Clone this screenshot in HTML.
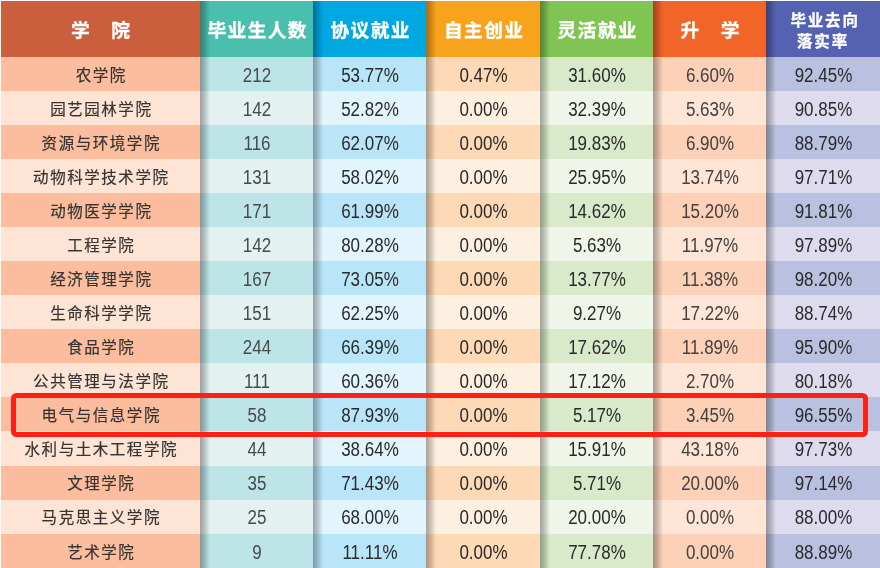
<!DOCTYPE html>
<html lang="zh-CN"><head><meta charset="utf-8"><title>table</title>
<style>
html,body{margin:0;padding:0;}
body{width:880px;height:568px;overflow:hidden;position:relative;background:#fff;font-family:"Liberation Sans","Noto Sans CJK SC",sans-serif;}
.c{position:absolute;top:0;height:568px;overflow:hidden;}
.h{position:absolute;left:0;right:0;top:0;height:57px;color:#fff;font-weight:bold;font-size:18.7px;letter-spacing:1.4px;text-indent:2.4px;text-align:center;line-height:62.6px;-webkit-text-stroke:0.3px #fff;white-space:nowrap;}
.h.two{font-size:15.5px;line-height:21px;letter-spacing:1.8px;text-indent:4.2px;}
.h.two span{display:block;padding-top:9.8px;}
.c{color:#2a2a2a}
.r{position:absolute;left:0;right:0;text-align:center;font-size:17px;white-space:nowrap;}
.r b{font-weight:normal;display:inline-block;transform:translateY(-0.25px) scaleY(1.14);padding-left:1px;}
.r i{font-style:normal;font-size:15.5px;letter-spacing:1.55px;color:#363433;position:relative;top:-0.1px;left:1.3px;-webkit-text-stroke:0.2px #363433;}
.sh{position:absolute;left:0;top:0;width:9.5px;height:568px;background:linear-gradient(to right,rgba(0,0,0,0.33),rgba(0,0,0,0.2) 45%,rgba(0,0,0,0));}
.box{position:absolute;box-sizing:border-box;left:11px;top:393.3px;width:857.4px;height:44px;border:5px solid #FC2015;border-left-width:5.6px;border-radius:5.5px;}
.wt{position:absolute;left:0;top:0;width:880px;height:1px;background:#fff;}
.wl{position:absolute;left:0;top:0;width:1px;height:568px;background:#fff;}
</style></head><body>

<div class="c" style="left:0px;width:200px">
<div class="r" style="top:57.00px;height:34px;line-height:37.00px;background:#FBBD9E"><i>农学院</i></div>
<div class="r" style="top:91.00px;height:34px;line-height:37.00px;background:#FEE4D5"><i>园艺园林学院</i></div>
<div class="r" style="top:125.00px;height:34px;line-height:37.00px;background:#FBBD9E"><i>资源与环境学院</i></div>
<div class="r" style="top:159.00px;height:34px;line-height:37.00px;background:#FEE4D5"><i>动物科学技术学院</i></div>
<div class="r" style="top:193.00px;height:34px;line-height:37.00px;background:#FBBD9E"><i>动物医学学院</i></div>
<div class="r" style="top:227.00px;height:34px;line-height:37.00px;background:#FEE4D5"><i>工程学院</i></div>
<div class="r" style="top:261.00px;height:34px;line-height:37.00px;background:#FBBD9E"><i>经济管理学院</i></div>
<div class="r" style="top:295.00px;height:34px;line-height:37.00px;background:#FEE4D5"><i>生命科学学院</i></div>
<div class="r" style="top:329.00px;height:34px;line-height:37.00px;background:#FBBD9E"><i>食品学院</i></div>
<div class="r" style="top:363.00px;height:34px;line-height:37.00px;background:#FEE4D5"><i>公共管理与法学院</i></div>
<div class="r" style="top:397.00px;height:34px;line-height:37.00px;background:#FBBD9E"><i>电气与信息学院</i></div>
<div class="r" style="top:431.00px;height:35px;line-height:37.00px;background:#FEE4D5"><i>水利与土木工程学院</i></div>
<div class="r" style="top:466.00px;height:34px;line-height:35.00px;background:#FBBD9E"><i>文理学院</i></div>
<div class="r" style="top:500.00px;height:34px;line-height:35.00px;background:#FEE4D5"><i>马克思主义学院</i></div>
<div class="r" style="top:534.00px;height:34px;line-height:37.00px;background:#FBBD9E"><i>艺术学院</i></div>
<div class="h" style="background:#CB5F3D">学　院</div>
</div>
<div class="c" style="left:200px;width:113px;color:#474a4a">
<div class="r" style="top:57.00px;height:34px;line-height:37.00px;background:#BDE4E6"><b>212</b></div>
<div class="r" style="top:91.00px;height:34px;line-height:37.00px;background:#E3F1F1"><b>142</b></div>
<div class="r" style="top:125.00px;height:34px;line-height:37.00px;background:#BDE4E6"><b>116</b></div>
<div class="r" style="top:159.00px;height:34px;line-height:37.00px;background:#E3F1F1"><b>131</b></div>
<div class="r" style="top:193.00px;height:34px;line-height:37.00px;background:#BDE4E6"><b>171</b></div>
<div class="r" style="top:227.00px;height:34px;line-height:37.00px;background:#E3F1F1"><b>142</b></div>
<div class="r" style="top:261.00px;height:34px;line-height:37.00px;background:#BDE4E6"><b>167</b></div>
<div class="r" style="top:295.00px;height:34px;line-height:37.00px;background:#E3F1F1"><b>151</b></div>
<div class="r" style="top:329.00px;height:34px;line-height:37.00px;background:#BDE4E6"><b>244</b></div>
<div class="r" style="top:363.00px;height:34px;line-height:37.00px;background:#E3F1F1"><b>111</b></div>
<div class="r" style="top:397.00px;height:34px;line-height:37.00px;background:#BDE4E6"><b>58</b></div>
<div class="r" style="top:431.00px;height:35px;line-height:37.00px;background:#E3F1F1"><b>44</b></div>
<div class="r" style="top:466.00px;height:34px;line-height:35.00px;background:#BDE4E6"><b>35</b></div>
<div class="r" style="top:500.00px;height:34px;line-height:35.00px;background:#E3F1F1"><b>25</b></div>
<div class="r" style="top:534.00px;height:34px;line-height:37.00px;background:#BDE4E6"><b>9</b></div>
<div class="h" style="background:#4BBFAD">毕业生人数</div>
<div class="sh"></div>
</div>
<div class="c" style="left:313px;width:113px">
<div class="r" style="top:57.00px;height:34px;line-height:37.00px;background:#B9E5F8"><b>53.77%</b></div>
<div class="r" style="top:91.00px;height:34px;line-height:37.00px;background:#E2F4FC"><b>52.82%</b></div>
<div class="r" style="top:125.00px;height:34px;line-height:37.00px;background:#B9E5F8"><b>62.07%</b></div>
<div class="r" style="top:159.00px;height:34px;line-height:37.00px;background:#E2F4FC"><b>58.02%</b></div>
<div class="r" style="top:193.00px;height:34px;line-height:37.00px;background:#B9E5F8"><b>61.99%</b></div>
<div class="r" style="top:227.00px;height:34px;line-height:37.00px;background:#E2F4FC"><b>80.28%</b></div>
<div class="r" style="top:261.00px;height:34px;line-height:37.00px;background:#B9E5F8"><b>73.05%</b></div>
<div class="r" style="top:295.00px;height:34px;line-height:37.00px;background:#E2F4FC"><b>62.25%</b></div>
<div class="r" style="top:329.00px;height:34px;line-height:37.00px;background:#B9E5F8"><b>66.39%</b></div>
<div class="r" style="top:363.00px;height:34px;line-height:37.00px;background:#E2F4FC"><b>60.36%</b></div>
<div class="r" style="top:397.00px;height:34px;line-height:37.00px;background:#B9E5F8"><b>87.93%</b></div>
<div class="r" style="top:431.00px;height:35px;line-height:37.00px;background:#E2F4FC"><b>38.64%</b></div>
<div class="r" style="top:466.00px;height:34px;line-height:35.00px;background:#B9E5F8"><b>71.43%</b></div>
<div class="r" style="top:500.00px;height:34px;line-height:35.00px;background:#E2F4FC"><b>68.00%</b></div>
<div class="r" style="top:534.00px;height:34px;line-height:37.00px;background:#B9E5F8"><b>11.11%</b></div>
<div class="h" style="background:#00A7E1">协议就业</div>
<div class="sh"></div>
</div>
<div class="c" style="left:426px;width:114px">
<div class="r" style="top:57.00px;height:34px;line-height:37.00px;background:#FDDAB5"><b>0.47%</b></div>
<div class="r" style="top:91.00px;height:34px;line-height:37.00px;background:#FEF0E0"><b>0.00%</b></div>
<div class="r" style="top:125.00px;height:34px;line-height:37.00px;background:#FDDAB5"><b>0.00%</b></div>
<div class="r" style="top:159.00px;height:34px;line-height:37.00px;background:#FEF0E0"><b>0.00%</b></div>
<div class="r" style="top:193.00px;height:34px;line-height:37.00px;background:#FDDAB5"><b>0.00%</b></div>
<div class="r" style="top:227.00px;height:34px;line-height:37.00px;background:#FEF0E0"><b>0.00%</b></div>
<div class="r" style="top:261.00px;height:34px;line-height:37.00px;background:#FDDAB5"><b>0.00%</b></div>
<div class="r" style="top:295.00px;height:34px;line-height:37.00px;background:#FEF0E0"><b>0.00%</b></div>
<div class="r" style="top:329.00px;height:34px;line-height:37.00px;background:#FDDAB5"><b>0.00%</b></div>
<div class="r" style="top:363.00px;height:34px;line-height:37.00px;background:#FEF0E0"><b>0.00%</b></div>
<div class="r" style="top:397.00px;height:34px;line-height:37.00px;background:#FDDAB5"><b>0.00%</b></div>
<div class="r" style="top:431.00px;height:35px;line-height:37.00px;background:#FEF0E0"><b>0.00%</b></div>
<div class="r" style="top:466.00px;height:34px;line-height:35.00px;background:#FDDAB5"><b>0.00%</b></div>
<div class="r" style="top:500.00px;height:34px;line-height:35.00px;background:#FEF0E0"><b>0.00%</b></div>
<div class="r" style="top:534.00px;height:34px;line-height:37.00px;background:#FDDAB5"><b>0.00%</b></div>
<div class="h" style="background:#F7A31C">自主创业</div>
<div class="sh"></div>
</div>
<div class="c" style="left:540px;width:113px">
<div class="r" style="top:57.00px;height:34px;line-height:37.00px;background:#D9EACB"><b>31.60%</b></div>
<div class="r" style="top:91.00px;height:34px;line-height:37.00px;background:#EFF5E8"><b>32.39%</b></div>
<div class="r" style="top:125.00px;height:34px;line-height:37.00px;background:#D9EACB"><b>19.83%</b></div>
<div class="r" style="top:159.00px;height:34px;line-height:37.00px;background:#EFF5E8"><b>25.95%</b></div>
<div class="r" style="top:193.00px;height:34px;line-height:37.00px;background:#D9EACB"><b>14.62%</b></div>
<div class="r" style="top:227.00px;height:34px;line-height:37.00px;background:#EFF5E8"><b>5.63%</b></div>
<div class="r" style="top:261.00px;height:34px;line-height:37.00px;background:#D9EACB"><b>13.77%</b></div>
<div class="r" style="top:295.00px;height:34px;line-height:37.00px;background:#EFF5E8"><b>9.27%</b></div>
<div class="r" style="top:329.00px;height:34px;line-height:37.00px;background:#D9EACB"><b>17.62%</b></div>
<div class="r" style="top:363.00px;height:34px;line-height:37.00px;background:#EFF5E8"><b>17.12%</b></div>
<div class="r" style="top:397.00px;height:34px;line-height:37.00px;background:#D9EACB"><b>5.17%</b></div>
<div class="r" style="top:431.00px;height:35px;line-height:37.00px;background:#EFF5E8"><b>15.91%</b></div>
<div class="r" style="top:466.00px;height:34px;line-height:35.00px;background:#D9EACB"><b>5.71%</b></div>
<div class="r" style="top:500.00px;height:34px;line-height:35.00px;background:#EFF5E8"><b>20.00%</b></div>
<div class="r" style="top:534.00px;height:34px;line-height:37.00px;background:#D9EACB"><b>77.78%</b></div>
<div class="h" style="background:#80C454">灵活就业</div>
<div class="sh"></div>
</div>
<div class="c" style="left:653px;width:113px;color:#434140">
<div class="r" style="top:57.00px;height:34px;line-height:37.00px;background:#FCD1B8"><b>6.60%</b></div>
<div class="r" style="top:91.00px;height:34px;line-height:37.00px;background:#FEE5D6"><b>5.63%</b></div>
<div class="r" style="top:125.00px;height:34px;line-height:37.00px;background:#FCD1B8"><b>6.90%</b></div>
<div class="r" style="top:159.00px;height:34px;line-height:37.00px;background:#FEE5D6"><b>13.74%</b></div>
<div class="r" style="top:193.00px;height:34px;line-height:37.00px;background:#FCD1B8"><b>15.20%</b></div>
<div class="r" style="top:227.00px;height:34px;line-height:37.00px;background:#FEE5D6"><b>11.97%</b></div>
<div class="r" style="top:261.00px;height:34px;line-height:37.00px;background:#FCD1B8"><b>11.38%</b></div>
<div class="r" style="top:295.00px;height:34px;line-height:37.00px;background:#FEE5D6"><b>17.22%</b></div>
<div class="r" style="top:329.00px;height:34px;line-height:37.00px;background:#FCD1B8"><b>11.89%</b></div>
<div class="r" style="top:363.00px;height:34px;line-height:37.00px;background:#FEE5D6"><b>2.70%</b></div>
<div class="r" style="top:397.00px;height:34px;line-height:37.00px;background:#FCD1B8"><b>3.45%</b></div>
<div class="r" style="top:431.00px;height:35px;line-height:37.00px;background:#FEE5D6"><b>43.18%</b></div>
<div class="r" style="top:466.00px;height:34px;line-height:35.00px;background:#FCD1B8"><b>20.00%</b></div>
<div class="r" style="top:500.00px;height:34px;line-height:35.00px;background:#FEE5D6"><b>0.00%</b></div>
<div class="r" style="top:534.00px;height:34px;line-height:37.00px;background:#FCD1B8"><b>0.00%</b></div>
<div class="h" style="background:#F26529">升　学</div>
<div class="sh"></div>
</div>
<div class="c" style="left:766px;width:114px">
<div class="r" style="top:57.00px;height:34px;line-height:37.00px;background:#BAC0E0"><b>92.45%</b></div>
<div class="r" style="top:91.00px;height:34px;line-height:37.00px;background:#DEDBEE"><b>90.85%</b></div>
<div class="r" style="top:125.00px;height:34px;line-height:37.00px;background:#BAC0E0"><b>88.79%</b></div>
<div class="r" style="top:159.00px;height:34px;line-height:37.00px;background:#DEDBEE"><b>97.71%</b></div>
<div class="r" style="top:193.00px;height:34px;line-height:37.00px;background:#BAC0E0"><b>91.81%</b></div>
<div class="r" style="top:227.00px;height:34px;line-height:37.00px;background:#DEDBEE"><b>97.89%</b></div>
<div class="r" style="top:261.00px;height:34px;line-height:37.00px;background:#BAC0E0"><b>98.20%</b></div>
<div class="r" style="top:295.00px;height:34px;line-height:37.00px;background:#DEDBEE"><b>88.74%</b></div>
<div class="r" style="top:329.00px;height:34px;line-height:37.00px;background:#BAC0E0"><b>95.90%</b></div>
<div class="r" style="top:363.00px;height:34px;line-height:37.00px;background:#DEDBEE"><b>80.18%</b></div>
<div class="r" style="top:397.00px;height:34px;line-height:37.00px;background:#BAC0E0"><b>96.55%</b></div>
<div class="r" style="top:431.00px;height:35px;line-height:37.00px;background:#DEDBEE"><b>97.73%</b></div>
<div class="r" style="top:466.00px;height:34px;line-height:35.00px;background:#BAC0E0"><b>97.14%</b></div>
<div class="r" style="top:500.00px;height:34px;line-height:35.00px;background:#DEDBEE"><b>88.00%</b></div>
<div class="r" style="top:534.00px;height:34px;line-height:37.00px;background:#BAC0E0"><b>88.89%</b></div>
<div class="h two" style="background:#5562B1"><span>毕业去向<br>落实率</span></div>
<div class="sh"></div>
</div>
<div class="box"></div><div class="wt"></div><div class="wl"></div>
</body></html>
